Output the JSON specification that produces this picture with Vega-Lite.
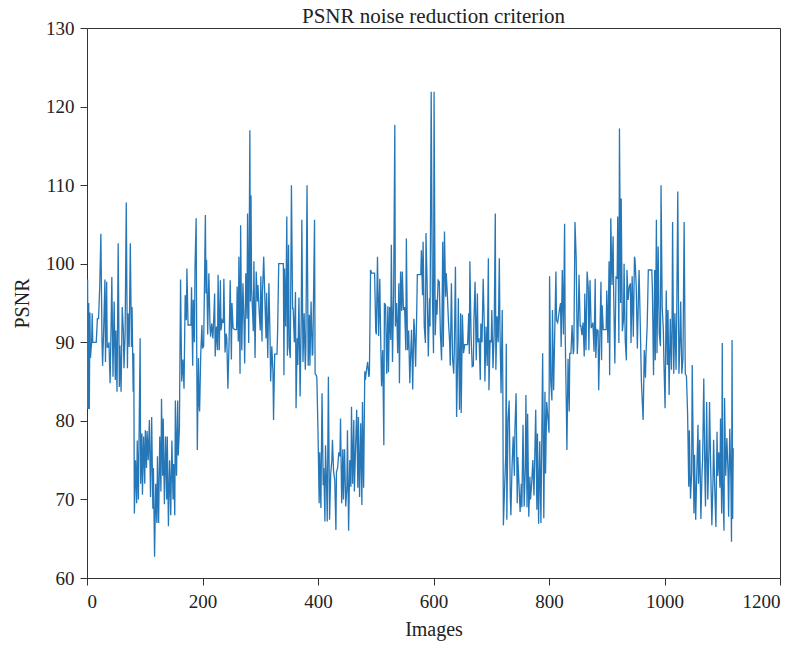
{
  "$schema": "https://vega.github.io/schema/vega-lite/v6.json",
  "width": 693,
  "height": 550,
  "autosize": {"type": "none"},
  "padding": {"left": 87, "top": 28, "right": 21, "bottom": 68},
  "background": "white",
  "title": {"text": "PSNR noise reduction criterion", "offset": -8},
  "data": {"values": [
{"image":0,"psnr":81.5},{"image":1,"psnr":98},{"image":2,"psnr":81.5},{"image":3,"psnr":95},{"image":4,"psnr":81.5},{"image":5,"psnr":93.8},{"image":6,"psnr":88},{"image":8,"psnr":90},{"image":9,"psnr":93.7},{"image":10,"psnr":90},{"image":12,"psnr":90},{"image":14,"psnr":90},{"image":16,"psnr":90},{"image":18,"psnr":93},{"image":20,"psnr":93},{"image":22,"psnr":97},{"image":24,"psnr":103.8},{"image":26,"psnr":90},{"image":27,"psnr":87},{"image":29,"psnr":92},{"image":31,"psnr":98},{"image":32,"psnr":87.5},{"image":34,"psnr":97.7},{"image":35,"psnr":89.4},{"image":37,"psnr":89.4},{"image":38,"psnr":90},{"image":40,"psnr":84.8},{"image":42,"psnr":93.5},{"image":43,"psnr":98.3},{"image":45,"psnr":85.6},{"image":47,"psnr":95.2},{"image":49,"psnr":85.2},{"image":50,"psnr":91.5},{"image":52,"psnr":83.7},{"image":54,"psnr":102.6},{"image":56,"psnr":84.3},{"image":57,"psnr":89.6},{"image":59,"psnr":83.7},{"image":61,"psnr":94.5},{"image":63,"psnr":91.3},{"image":64,"psnr":86.7},{"image":66,"psnr":91.1},{"image":68,"psnr":107.8},{"image":70,"psnr":86.7},{"image":71,"psnr":93.7},{"image":73,"psnr":89.4},{"image":75,"psnr":102.6},{"image":77,"psnr":89.4},{"image":78,"psnr":94.5},{"image":80,"psnr":83.7},{"image":81,"psnr":88.6},
{"image":82,"psnr":68.2},{"image":84,"psnr":75},{"image":86,"psnr":69.5},{"image":87,"psnr":77.5},{"image":89,"psnr":70},{"image":92,"psnr":90.5},{"image":93,"psnr":72},{"image":95,"psnr":78.4},{"image":96,"psnr":70.6},{"image":98,"psnr":78},{"image":100,"psnr":72},{"image":101,"psnr":78.8},{"image":103,"psnr":74},{"image":104,"psnr":78.7},{"image":106,"psnr":75},{"image":108,"psnr":80.1},{"image":110,"psnr":70.3},{"image":112,"psnr":80.5},{"image":114,"psnr":68.8},{"image":115,"psnr":74},{"image":117,"psnr":62.7},{"image":119,"psnr":72},{"image":121,"psnr":67},{"image":122,"psnr":75.5},{"image":124,"psnr":67},{"image":126,"psnr":78},{"image":128,"psnr":71},{"image":129,"psnr":82.8},{"image":131,"psnr":73},{"image":132,"psnr":80.3},{"image":134,"psnr":69.4},{"image":136,"psnr":78},{"image":138,"psnr":70},{"image":139,"psnr":78},{"image":141,"psnr":66.6},{"image":143,"psnr":75},{"image":144,"psnr":72},{"image":145,"psnr":68},{"image":147,"psnr":77.5},{"image":149,"psnr":70},{"image":150,"psnr":74.5},{"image":152,"psnr":68},{"image":153,"psnr":82.6},{"image":155,"psnr":73},{"image":157,"psnr":82.6},{"image":158,"psnr":75.6},{"image":160,"psnr":79},
{"image":162,"psnr":98},{"image":164,"psnr":85},{"image":166,"psnr":87.8},{"image":168,"psnr":84.1},{"image":170,"psnr":96},{"image":172,"psnr":92.8},{"image":173,"psnr":99.4},{"image":175,"psnr":92.2},{"image":178,"psnr":92.2},{"image":180,"psnr":92.2},{"image":181,"psnr":97},{"image":183,"psnr":87},{"image":184,"psnr":95.4},{"image":186,"psnr":90},{"image":187,"psnr":99.4},{"image":189,"psnr":105.8},{"image":190,"psnr":89},{"image":191,"psnr":76.3},{"image":193,"psnr":88},{"image":194,"psnr":82.2},{"image":195,"psnr":81.2},{"image":197,"psnr":88.6},{"image":199,"psnr":92.2},{"image":200,"psnr":89.2},{"image":202,"psnr":89.5},{"image":205,"psnr":106.2},{"image":206,"psnr":96.2},{"image":207,"psnr":100.5},{"image":209,"psnr":91},{"image":211,"psnr":98.8},{"image":213,"psnr":92},{"image":214,"psnr":90.7},{"image":216,"psnr":92.4},{"image":218,"psnr":90.5},{"image":220,"psnr":94},{"image":221,"psnr":96.2},{"image":222,"psnr":88.2},{"image":224,"psnr":92},{"image":226,"psnr":89},{"image":227,"psnr":98.6},{"image":229,"psnr":89},{"image":231,"psnr":97.9},{"image":232,"psnr":91.5},{"image":234,"psnr":92.8},{"image":236,"psnr":92.5},{"image":237,"psnr":98.1},{"image":239,"psnr":88.7},{"image":241,"psnr":91.1},{"image":242,"psnr":90.5},{"image":244,"psnr":84.1},{"image":246,"psnr":90},{"image":248,"psnr":97.9},{"image":250,"psnr":87.8},{"image":251,"psnr":95},{"image":253,"psnr":91.8},{"image":256,"psnr":91.6},{"image":259,"psnr":91.6},{"image":260,"psnr":97.1},{"image":262,"psnr":90.1},{"image":263,"psnr":100.9},{"image":265,"psnr":86},{"image":266,"psnr":104.9},{"image":268,"psnr":89},{"image":270,"psnr":97.5},{"image":272,"psnr":92},{"image":273,"psnr":87.3},{"image":275,"psnr":98.8},{"image":277,"psnr":93},{"image":278,"psnr":106.4},{"image":280,"psnr":89.9},{"image":282,"psnr":117},{"image":283,"psnr":95.2},{"image":284,"psnr":108.7},{"image":285,"psnr":97},{"image":286,"psnr":95.2},{"image":288,"psnr":91.4},{"image":289,"psnr":100.3},{"image":291,"psnr":88},{"image":293,"psnr":99},{"image":295,"psnr":95.2},{"image":296,"psnr":97.3},{"image":298,"psnr":94.1},{"image":300,"psnr":91.5},{"image":301,"psnr":98.4},{"image":303,"psnr":90.1},{"image":304,"psnr":96.6},{"image":306,"psnr":100.9},{"image":308,"psnr":95.5},{"image":310,"psnr":90.5},{"image":311,"psnr":96.3},{"image":313,"psnr":88},{"image":315,"psnr":97.5},{"image":317,"psnr":90.5},{"image":318,"psnr":85},{"image":320,"psnr":89.5},{"image":322,"psnr":86.2},{"image":323,"psnr":80.1},{"image":325,"psnr":88.5},{"image":327,"psnr":88.5},{"image":329,"psnr":88.5},{"image":330,"psnr":91.2},{"image":332,"psnr":100},{"image":334,"psnr":100},{"image":337,"psnr":100},{"image":340,"psnr":100},{"image":341,"psnr":85.8},{"image":342,"psnr":99.4},{"image":344,"psnr":92},{"image":346,"psnr":106},{"image":347,"psnr":88.3},{"image":349,"psnr":102.4},{"image":350,"psnr":89.4},{"image":352,"psnr":88},{"image":354,"psnr":110},{"image":356,"psnr":94.3},{"image":357,"psnr":94.3},{"image":359,"psnr":90},{"image":361,"psnr":96.4},{"image":362,"psnr":81.6},{"image":364,"psnr":90.5},{"image":365,"psnr":87.1},{"image":367,"psnr":95.7},{"image":369,"psnr":83.1},{"image":371,"psnr":93.3},{"image":372,"psnr":105.6},{"image":374,"psnr":87.5},{"image":376,"psnr":93.7},{"image":378,"psnr":86.5},{"image":379,"psnr":89.5},{"image":381,"psnr":110},{"image":383,"psnr":87},{"image":385,"psnr":93.5},{"image":386,"psnr":87},{"image":388,"psnr":95.2},{"image":390,"psnr":88.3},{"image":391,"psnr":88.5},{"image":394,"psnr":105.6},{"image":395,"psnr":86},{"image":397,"psnr":85.8},{"image":398,"psnr":85.5},
{"image":400,"psnr":78.6},{"image":402,"psnr":69.5},{"image":403,"psnr":76},{"image":405,"psnr":68.9},{"image":407,"psnr":83.5},{"image":409,"psnr":71.8},{"image":410,"psnr":74},{"image":412,"psnr":67.2},{"image":413,"psnr":76.9},{"image":415,"psnr":71.2},{"image":416,"psnr":67.2},{"image":418,"psnr":85.6},{"image":420,"psnr":67.4},{"image":422,"psnr":73.3},{"image":424,"psnr":75},{"image":425,"psnr":77.6},{"image":427,"psnr":73.5},{"image":429,"psnr":72.5},{"image":431,"psnr":66.1},{"image":432,"psnr":73.5},{"image":434,"psnr":74},{"image":436,"psnr":76},{"image":438,"psnr":75.5},{"image":439,"psnr":80.3},{"image":441,"psnr":69.5},{"image":443,"psnr":76.4},{"image":444,"psnr":70},{"image":446,"psnr":76.4},{"image":448,"psnr":69.1},{"image":450,"psnr":71.5},{"image":451,"psnr":78.8},{"image":453,"psnr":66},{"image":455,"psnr":75},{"image":457,"psnr":71.6},{"image":458,"psnr":81.8},{"image":460,"psnr":72},{"image":462,"psnr":80.1},{"image":463,"psnr":71},{"image":465,"psnr":76.5},{"image":467,"psnr":81.4},{"image":469,"psnr":71.5},{"image":470,"psnr":80.5},{"image":472,"psnr":70.3},{"image":474,"psnr":79.7},{"image":476,"psnr":69.3},{"image":477,"psnr":82.4},{"image":479,"psnr":71.5},{"image":481,"psnr":86.3},{"image":482,"psnr":85.2},{"image":484,"psnr":86.5},{"image":486,"psnr":87.5},{"image":488,"psnr":85.6},{"image":489,"psnr":86},
{"image":491,"psnr":99.2},{"image":493,"psnr":98.8},{"image":495,"psnr":98.8},{"image":498,"psnr":98.8},{"image":500,"psnr":91.4},{"image":501,"psnr":91},{"image":503,"psnr":100.9},{"image":505,"psnr":90.8},{"image":507,"psnr":98.1},{"image":508,"psnr":93},{"image":510,"psnr":84.4},{"image":512,"psnr":89},{"image":514,"psnr":76.9},{"image":515,"psnr":95},{"image":517,"psnr":94.7},{"image":519,"psnr":86},{"image":521,"psnr":94.6},{"image":522,"psnr":86.2},{"image":524,"psnr":94.5},{"image":526,"psnr":90.3},{"image":527,"psnr":102.4},{"image":529,"psnr":87.5},{"image":531,"psnr":96.2},{"image":533,"psnr":117.7},{"image":534,"psnr":92},{"image":536,"psnr":95},{"image":538,"psnr":88.6},{"image":540,"psnr":97.5},{"image":541,"psnr":84.8},{"image":543,"psnr":99},{"image":545,"psnr":94},{"image":546,"psnr":99},{"image":548,"psnr":94.1},{"image":550,"psnr":94.5},{"image":552,"psnr":89},{"image":553,"psnr":103.2},{"image":555,"psnr":89},{"image":557,"psnr":91.5},{"image":559,"psnr":84.8},{"image":560,"psnr":87.5},{"image":562,"psnr":91.6},{"image":564,"psnr":84},{"image":566,"psnr":93},{"image":567,"psnr":92},{"image":569,"psnr":86.9},{"image":571,"psnr":94},{"image":572,"psnr":98.6},{"image":574,"psnr":98.6},{"image":576,"psnr":98.6},{"image":578,"psnr":98.6},{"image":579,"psnr":101.7},{"image":581,"psnr":96},{"image":582,"psnr":102.8},{"image":584,"psnr":92},{"image":586,"psnr":89.9},{"image":587,"psnr":103.9},{"image":589,"psnr":97.3},{"image":591,"psnr":88.2},{"image":593,"psnr":95.6},{"image":594,"psnr":92},{"image":596,"psnr":121.9},{"image":598,"psnr":96.5},{"image":600,"psnr":88.6},{"image":601,"psnr":121.9},{"image":603,"psnr":90.9},{"image":605,"psnr":95.4},{"image":606,"psnr":93.5},{"image":608,"psnr":97.9},{"image":610,"psnr":97.7},{"image":612,"psnr":91},{"image":614,"psnr":87.7},{"image":616,"psnr":102.8},{"image":617,"psnr":89.4},{"image":619,"psnr":104.1},{"image":621,"psnr":95.8},{"image":622,"psnr":98.8},{"image":624,"psnr":96},{"image":626,"psnr":92.5},{"image":628,"psnr":89.9},{"image":629,"psnr":87},{"image":631,"psnr":97.5},{"image":633,"psnr":88},{"image":635,"psnr":86},{"image":636,"psnr":89},{"image":638,"psnr":99.6},{"image":640,"psnr":80.5},{"image":642,"psnr":88.5},{"image":643,"psnr":95.6},{"image":645,"psnr":81.4},{"image":647,"psnr":93.7},{"image":648,"psnr":81},{"image":650,"psnr":93.5},{"image":652,"psnr":88.6},{"image":654,"psnr":89.7},{"image":657,"psnr":89.7},{"image":659,"psnr":89.7},{"image":661,"psnr":93.7},{"image":662,"psnr":88.5},{"image":663,"psnr":100.3},{"image":665,"psnr":91},{"image":667,"psnr":86.9},{"image":669,"psnr":87},{"image":670,"psnr":92.8},{"image":672,"psnr":97.7},{"image":674,"psnr":87.7},{"image":676,"psnr":96.2},{"image":677,"psnr":90},{"image":679,"psnr":90.5},{"image":681,"psnr":85.2},{"image":682,"psnr":92.4},{"image":684,"psnr":90},{"image":686,"psnr":98.1},{"image":688,"psnr":92},{"image":689,"psnr":85},{"image":691,"psnr":92},{"image":693,"psnr":87},{"image":695,"psnr":100.7},{"image":696,"psnr":83.9},{"image":698,"psnr":90.3},{"image":700,"psnr":90},{"image":701,"psnr":94.1},{"image":703,"psnr":86.7},{"image":705,"psnr":91},{"image":707,"psnr":106.4},{"image":708,"psnr":86.5},{"image":710,"psnr":93.3},{"image":712,"psnr":90},{"image":714,"psnr":100.7},{"image":715,"psnr":92},{"image":717,"psnr":83.5},{"image":719,"psnr":94.1},{"image":720,"psnr":85},
{"image":721,"psnr":66.7},{"image":723,"psnr":71.2},{"image":725,"psnr":75.5},{"image":726,"psnr":89.8},{"image":727,"psnr":67.4},{"image":729,"psnr":80.1},{"image":731,"psnr":82.6},{"image":733,"psnr":70.3},{"image":734,"psnr":68},{"image":736,"psnr":74.2},{"image":738,"psnr":78},{"image":740,"psnr":73},{"image":741,"psnr":79},{"image":743,"psnr":83.5},{"image":745,"psnr":69.5},{"image":746,"psnr":75.4},{"image":748,"psnr":72},{"image":750,"psnr":68.4},{"image":752,"psnr":72},{"image":753,"psnr":69},{"image":755,"psnr":79.5},{"image":757,"psnr":69.1},{"image":759,"psnr":74},{"image":760,"psnr":83.3},{"image":762,"psnr":69},{"image":763,"psnr":80.9},{"image":765,"psnr":67.8},{"image":767,"psnr":72.9},{"image":768,"psnr":70},{"image":770,"psnr":72},{"image":772,"psnr":75},{"image":774,"psnr":70.5},{"image":775,"psnr":74.2},{"image":777,"psnr":81.4},{"image":779,"psnr":68.7},{"image":780,"psnr":78.4},{"image":782,"psnr":66.9},{"image":784,"psnr":77.4},{"image":786,"psnr":67},{"image":787,"psnr":74.2},{"image":789,"psnr":88.6},{"image":791,"psnr":67.6},{"image":793,"psnr":83.7},{"image":794,"psnr":73.3},{"image":796,"psnr":82.4},{"image":798,"psnr":80.5},{"image":800,"psnr":78.5},
{"image":801,"psnr":98.4},{"image":803,"psnr":85},{"image":805,"psnr":82.6},{"image":806,"psnr":94.1},{"image":808,"psnr":83.9},{"image":810,"psnr":91.5},{"image":812,"psnr":99},{"image":813,"psnr":92.8},{"image":815,"psnr":92.5},{"image":818,"psnr":94.1},{"image":820,"psnr":95},{"image":821,"psnr":89.4},{"image":823,"psnr":99.2},{"image":825,"psnr":91},{"image":827,"psnr":105.1},{"image":828,"psnr":91.3},{"image":830,"psnr":82},{"image":831,"psnr":76.3},{"image":833,"psnr":87.9},{"image":835,"psnr":81.2},{"image":836,"psnr":88.6},{"image":838,"psnr":88.6},{"image":840,"psnr":92.2},{"image":842,"psnr":88.5},{"image":843,"psnr":89},{"image":845,"psnr":105.3},{"image":847,"psnr":100.9},{"image":849,"psnr":88.5},{"image":850,"psnr":90.3},{"image":852,"psnr":98.6},{"image":854,"psnr":92},{"image":855,"psnr":92.2},{"image":857,"psnr":90.9},{"image":859,"psnr":92.5},{"image":861,"psnr":88.2},{"image":862,"psnr":96.2},{"image":864,"psnr":89},{"image":866,"psnr":99},{"image":868,"psnr":96.9},{"image":869,"psnr":89},{"image":871,"psnr":97.9},{"image":873,"psnr":91.8},{"image":874,"psnr":92},{"image":876,"psnr":92.5},{"image":878,"psnr":88.8},{"image":880,"psnr":98.1},{"image":881,"psnr":88},{"image":883,"psnr":91.6},{"image":885,"psnr":91.5},{"image":886,"psnr":83.9},{"image":888,"psnr":90.5},{"image":890,"psnr":97.7},{"image":891,"psnr":87.7},{"image":892,"psnr":94.7},{"image":894,"psnr":91.6},{"image":896,"psnr":91.6},{"image":899,"psnr":91.6},{"image":900,"psnr":96.6},{"image":902,"psnr":89.9},{"image":904,"psnr":100.3},{"image":905,"psnr":85.8},{"image":907,"psnr":105.8},{"image":909,"psnr":97.3},{"image":911,"psnr":103.5},{"image":912,"psnr":96.2},{"image":914,"psnr":87.3},{"image":916,"psnr":98.4},{"image":918,"psnr":98.1},{"image":919,"psnr":106},{"image":921,"psnr":89.9},{"image":922,"psnr":117.2},{"image":924,"psnr":95},{"image":925,"psnr":108.3},{"image":927,"psnr":91.4},{"image":929,"psnr":92.8},{"image":930,"psnr":100},{"image":932,"psnr":90.3},{"image":934,"psnr":87.7},{"image":935,"psnr":99.2},{"image":937,"psnr":95.4},{"image":939,"psnr":97.1},{"image":941,"psnr":97.5},{"image":942,"psnr":89.9},{"image":944,"psnr":98.4},{"image":946,"psnr":90.7},{"image":948,"psnr":100.9},{"image":949,"psnr":100.5},{"image":951,"psnr":97.3},{"image":953,"psnr":89.2},{"image":955,"psnr":96.5},{"image":956,"psnr":99.2},{"image":958,"psnr":92.4},{"image":960,"psnr":85},{"image":961,"psnr":83.3},{"image":963,"psnr":80.1},{"image":965,"psnr":89},{"image":967,"psnr":85.5},{"image":968,"psnr":88.6},{"image":970,"psnr":92},{"image":972,"psnr":99.2},{"image":975,"psnr":99.2},{"image":978,"psnr":99.2},{"image":979,"psnr":97},{"image":981,"psnr":85.8},{"image":983,"psnr":99.2},{"image":984,"psnr":87.7},{"image":986,"psnr":105.6},{"image":987,"psnr":88.6},{"image":989,"psnr":102.2},{"image":991,"psnr":91},{"image":993,"psnr":89.5},{"image":994,"psnr":110},{"image":996,"psnr":94.5},{"image":998,"psnr":91.5},{"image":999,"psnr":87.5},{"image":1001,"psnr":81.6},{"image":1003,"psnr":96.6},{"image":1005,"psnr":87.1},{"image":1006,"psnr":94.1},{"image":1008,"psnr":83.3},{"image":1010,"psnr":93},{"image":1012,"psnr":86.5},{"image":1013,"psnr":91},{"image":1014,"psnr":105.3},{"image":1016,"psnr":86},{"image":1018,"psnr":93.7},{"image":1020,"psnr":86.5},{"image":1021,"psnr":92},{"image":1023,"psnr":109.2},{"image":1025,"psnr":86},{"image":1027,"psnr":90.7},{"image":1028,"psnr":95.2},{"image":1030,"psnr":86},{"image":1032,"psnr":88},{"image":1034,"psnr":105.3},{"image":1036,"psnr":86},{"image":1038,"psnr":85.7},{"image":1040,"psnr":80.9},
{"image":1042,"psnr":71.6},{"image":1043,"psnr":78.8},{"image":1045,"psnr":70.1},{"image":1047,"psnr":73.3},{"image":1048,"psnr":87.1},{"image":1051,"psnr":68.2},{"image":1052,"psnr":75.7},{"image":1054,"psnr":67.4},{"image":1056,"psnr":73.7},{"image":1058,"psnr":79.5},{"image":1059,"psnr":72},{"image":1061,"psnr":77.6},{"image":1063,"psnr":67.5},{"image":1065,"psnr":73.5},{"image":1066,"psnr":75},{"image":1068,"psnr":85.4},{"image":1070,"psnr":72.5},{"image":1071,"psnr":69.1},{"image":1073,"psnr":82.4},{"image":1075,"psnr":70},{"image":1077,"psnr":76.5},{"image":1078,"psnr":82.4},{"image":1080,"psnr":74},{"image":1082,"psnr":66.7},{"image":1084,"psnr":72.5},{"image":1085,"psnr":77.6},{"image":1087,"psnr":71.5},{"image":1089,"psnr":66.5},{"image":1091,"psnr":78.6},{"image":1092,"psnr":73},{"image":1094,"psnr":76},{"image":1096,"psnr":71.5},{"image":1097,"psnr":80.3},{"image":1099,"psnr":68.2},{"image":1100,"psnr":89.9},{"image":1101,"psnr":72},{"image":1103,"psnr":66},{"image":1104,"psnr":82.9},{"image":1106,"psnr":73},{"image":1108,"psnr":77.8},{"image":1110,"psnr":73.5},{"image":1111,"psnr":67.8},{"image":1113,"psnr":79},{"image":1115,"psnr":72.3},{"image":1116,"psnr":64.6},{"image":1117,"psnr":90.3},{"image":1118,"psnr":67.5},{"image":1119,"psnr":76.5}
  ]},
  "mark": {"type": "line", "color": "#2677b8", "strokeWidth": 1.3, "clip": true},
  "encoding": {
    "x": {"field": "image", "type": "quantitative", "title": "Images",
          "scale": {"domain": [0, 1200], "nice": false, "zero": false},
          "axis": {"values": [0, 200, 400, 600, 800, 1000, 1200], "format": "d", "labelPadding": 7, "titlePadding": 8}},
    "y": {"field": "psnr", "type": "quantitative", "title": "PSNR",
          "scale": {"domain": [60, 130], "nice": false, "zero": false},
          "axis": {"values": [60, 70, 80, 90, 100, 110, 120, 130], "format": "d", "labelPadding": 6, "titlePadding": 13}}
  },
  "config": {
    "view": {"stroke": "#333", "strokeWidth": 1},
    "axis": {"domainColor": "#333", "domainWidth": 1, "tickColor": "#333", "tickSize": 7, "tickWidth": 1,
             "labelFont": "Liberation Serif", "labelFontSize": 19, "labelColor": "#222",
             "titleFont": "Liberation Serif", "titleFontSize": 20, "titleFontWeight": "normal", "titleColor": "#222",
             "grid": false},
    "title": {"font": "Liberation Serif", "fontSize": 21, "fontWeight": "normal", "color": "#222"}
  }
}
